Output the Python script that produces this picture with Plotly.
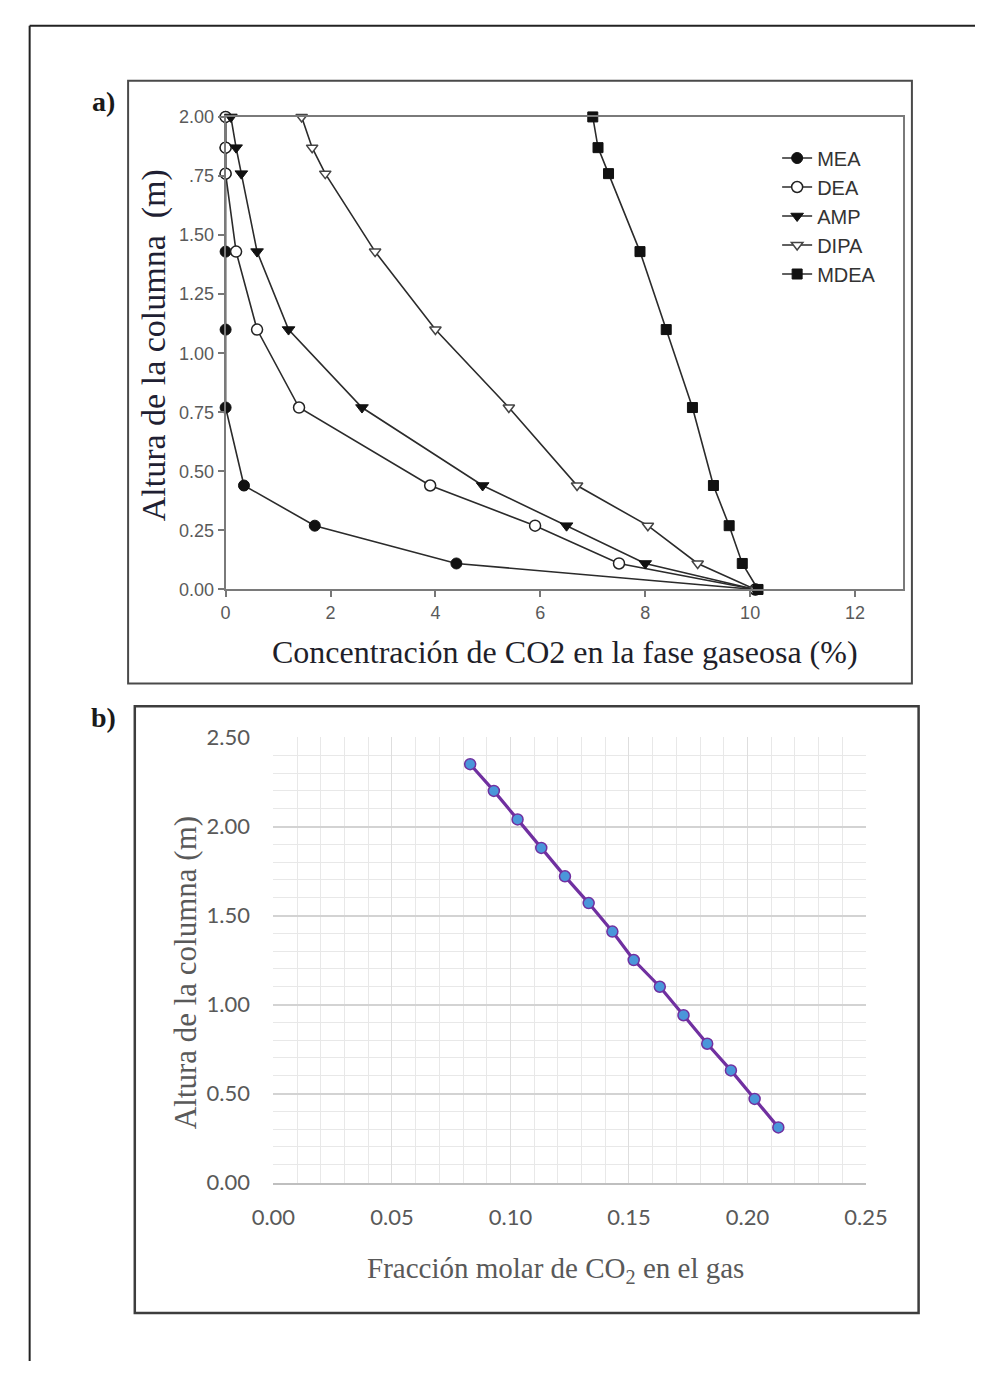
import plotly.graph_objects as go

W, H = 997, 1374


def px(x):
    return x / W


def py(y):
    return 1 - y / H


# ---------------- Data: panel a) ----------------
heights_a = [2.00, 1.87, 1.76, 1.43, 1.10, 0.77, 0.44, 0.27, 0.11, 0.00]
mea = [0.0, 0.0, 0.0, 0.0, 0.0, 0.0, 0.35, 1.7, 4.4, 10.1]
dea = [0.0, 0.0, 0.0, 0.2, 0.6, 1.4, 3.9, 5.9, 7.5, 10.1]
amp = [0.1, 0.2, 0.3, 0.6, 1.2, 2.6, 4.9, 6.5, 8.0, 10.1]
dipa = [1.45, 1.65, 1.9, 2.85, 4.0, 5.4, 6.7, 8.05, 9.0, 10.1]
mdea = [7.0, 7.1, 7.3, 7.9, 8.4, 8.9, 9.3, 9.6, 9.85, 10.15]

x_ticks_a = [0, 2, 4, 6, 8, 10, 12]
y_ticks_a = [0.0, 0.25, 0.5, 0.75, 1.0, 1.25, 1.5, 1.75, 2.0]
y_ticktext_a = ["0.00", "0.25", "0.50", "0.75", "1.00", "1.25", "1.50", ".75", "2.00"]

# ---------------- Data: panel b) ----------------
frac_b = [0.083, 0.093, 0.103, 0.113, 0.123, 0.133, 0.143, 0.152, 0.163,
          0.173, 0.183, 0.193, 0.203, 0.213]
height_b = [2.35, 2.20, 2.04, 1.88, 1.72, 1.57, 1.41, 1.25, 1.10,
            0.94, 0.78, 0.63, 0.47, 0.31]

fig = go.Figure()

line_col = "#2b2b2b"
series = [
    ("MEA", mea, dict(symbol="circle", size=11, color="#111111",
                      line=dict(color="#111111", width=1))),
    ("DEA", dea, dict(symbol="circle", size=11, color="white",
                      line=dict(color="#222222", width=1.5))),
    ("AMP", amp, dict(symbol="triangle-down", size=11, color="#111111",
                      line=dict(color="#111111", width=1))),
    ("DIPA", dipa, dict(symbol="triangle-down", size=10, color="white",
                        line=dict(color="#444444", width=1.5))),
    ("MDEA", mdea, dict(symbol="square", size=10, color="#111111",
                        line=dict(color="#111111", width=1))),
]
for name, xs, mk in series:
    fig.add_trace(go.Scatter(
        x=xs, y=heights_a, name=name, mode="lines+markers",
        line=dict(color=line_col, width=1.6), marker=mk,
        cliponaxis=False, xaxis="x", yaxis="y", showlegend=True,
    ))

fig.add_trace(go.Scatter(
    x=frac_b, y=height_b, mode="lines+markers", showlegend=False,
    line=dict(color="#7030A0", width=3.2),
    marker=dict(symbol="circle", size=11, color="#4A96DA",
                line=dict(color="#7030A0", width=1.5)),
    cliponaxis=False, xaxis="x2", yaxis="y2",
))

tick_font_a = dict(family="Liberation Sans, Arial", size=18, color="#5a5a5a")
tick_font_b = dict(family="Lato, Open Sans", size=22, color="#595959")

fig.update_layout(
    width=W, height=H,
    margin=dict(l=0, r=0, t=0, b=0),
    paper_bgcolor="white", plot_bgcolor="white",
    xaxis=dict(
        domain=[px(213), px(922)], range=[0, 12.92], anchor="y",
        tickmode="array", tickvals=x_ticks_a, ticktext=[str(v) for v in x_ticks_a],
        ticks="outside", ticklen=6, tickwidth=1.5, tickcolor="#777777",
        showline=True, linecolor="#7a7a7a", linewidth=2, mirror=True,
        showgrid=False, zeroline=False, tickfont=tick_font_a,
    ),
    yaxis=dict(
        domain=[py(587), py(105)], range=[0, 2], anchor="x",
        tickmode="array", tickvals=y_ticks_a, ticktext=y_ticktext_a,
        ticks="outside", ticklen=6, tickwidth=1.5, tickcolor="#777777",
        showline=True, linecolor="#7a7a7a", linewidth=2, mirror=True,
        showgrid=False, zeroline=False, tickfont=tick_font_a,
    ),
    xaxis2=dict(
        domain=[px(263), px(883)], range=[0, 0.25], anchor="y2",
        tick0=0, dtick=0.05, tickformat=".2f",
        ticks="outside", ticklen=14, tickcolor="rgba(0,0,0,0)",
        showline=True, linecolor="#bfbfbf", linewidth=1.5,
        showgrid=True, gridcolor="#dedede", gridwidth=1,
        minor=dict(dtick=0.01, showgrid=True, gridcolor="#e8e8e8", gridwidth=1),
        zeroline=False, tickfont=tick_font_b,
    ),
    yaxis2=dict(
        domain=[py(1192), py(738)], range=[0, 2.5], anchor="x2",
        tick0=0, dtick=0.5, tickformat=".2f",
        ticks="outside", ticklen=18, tickcolor="rgba(0,0,0,0)",
        showline=False,
        showgrid=True, gridcolor="#d3d3d3", gridwidth=1.5,
        minor=dict(dtick=0.1, showgrid=True, gridcolor="#e8e8e8", gridwidth=1),
        zeroline=False, tickfont=tick_font_b,
    ),
    legend=dict(
        x=px(790), y=py(127), xanchor="left", yanchor="top",
        bgcolor="rgba(0,0,0,0)", borderwidth=0,
        font=dict(family="Liberation Sans, Arial", size=20, color="#333333"),
        itemwidth=30, tracegroupgap=0,
    ),
    showlegend=True,
)

serif = "Liberation Serif, Times New Roman, serif"
annotations = [
    dict(text="<b>a)</b>", x=px(85), y=py(89), font=dict(family=serif, size=28, color="#1a1a1a"),
         xanchor="center", yanchor="middle"),
    dict(text="<b>b)</b>", x=px(85), y=py(718), font=dict(family=serif, size=28, color="#1a1a1a"),
         xanchor="center", yanchor="middle"),
    dict(text="Altura de la columna  (m)", x=px(138), y=py(338), textangle=-90,
         font=dict(family=serif, size=34, color="#1f1f33"), xanchor="center", yanchor="middle"),
    dict(text="Concentración de CO2 en la fase gaseosa (%)", x=px(568), y=py(651),
         font=dict(family=serif, size=32, color="#1f1f2a"), xanchor="center", yanchor="middle"),
    dict(text="Altura de la columna (m)", x=px(171), y=py(978), textangle=-90,
         font=dict(family=serif, size=31, color="#595959"), xanchor="center", yanchor="middle"),
    dict(text="Fracción molar de CO<sub>2</sub> en el gas", x=px(558), y=py(1281),
         font=dict(family=serif, size=29, color="#595959"), xanchor="center", yanchor="middle"),
]
for a in annotations:
    a.update(xref="paper", yref="paper", showarrow=False)
fig.update_layout(annotations=annotations)

shapes = [
    # outer frame (top and left edges)
    dict(type="line", x0=px(8), x1=px(997), y0=py(12), y1=py(12),
         line=dict(color="#222222", width=2)),
    dict(type="line", x0=px(8), x1=px(8), y0=py(12), y1=py(1374),
         line=dict(color="#222222", width=2)),
    # panel a frame
    dict(type="rect", x0=px(111), x1=px(931), y0=py(68), y1=py(683),
         line=dict(color="#4a4a4a", width=2)),
    # panel b frame
    dict(type="rect", x0=px(118), x1=px(938), y0=py(706), y1=py(1325),
         line=dict(color="#3d3d3d", width=2.5)),
]
for s in shapes:
    s.update(xref="paper", yref="paper", layer="above")
fig.update_layout(shapes=shapes)

fig.write_html("out.html")
